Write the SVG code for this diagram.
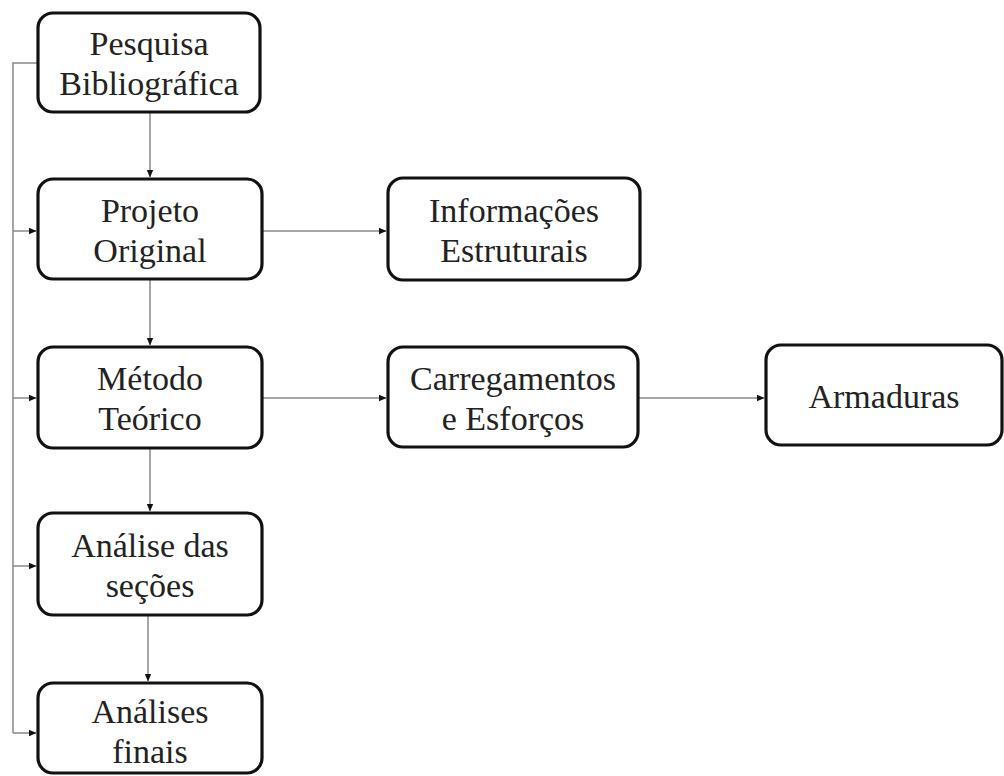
<svg xmlns="http://www.w3.org/2000/svg" width="1004" height="776" viewBox="0 0 1004 776">
<defs>
<marker id="arr" markerWidth="8" markerHeight="8" refX="7" refY="4" orient="auto" markerUnits="userSpaceOnUse">
<path d="M0,0.8 L7.5,4 L0,7.2 Z" fill="#111"/>
</marker>
</defs>
<rect width="1004" height="776" fill="#fff"/>
<g id="connectors" fill="none" stroke="#888" stroke-width="1.5">
<path d="M38,63 H13 V733"/>
<path d="M13,231 H36" marker-end="url(#arr)"/>
<path d="M13,398 H36" marker-end="url(#arr)"/>
<path d="M13,566 H36" marker-end="url(#arr)"/>
<path d="M13,733 H36" marker-end="url(#arr)"/>
<path d="M150,112 V177" marker-end="url(#arr)"/>
<path d="M150,280 V345" marker-end="url(#arr)"/>
<path d="M150,448 V511" marker-end="url(#arr)"/>
<path d="M148,616 V681" marker-end="url(#arr)"/>
<path d="M262,231 H386" marker-end="url(#arr)"/>
<path d="M262,398 H386" marker-end="url(#arr)"/>
<path d="M638,398 H764" marker-end="url(#arr)"/>
</g>
<g id="n1"><rect x="38" y="13" width="222" height="99" rx="15" fill="#fff" stroke="#111" stroke-width="3.2"/>
<text x="149" y="55" font-size="34" font-family="'Liberation Serif'" text-anchor="middle" fill="#222">Pesquisa</text>
<text x="149" y="95" font-size="34" font-family="'Liberation Serif'" text-anchor="middle" fill="#222">Bibliográfica</text></g>
<g id="n2"><rect x="38" y="179" width="224" height="100" rx="15" fill="#fff" stroke="#111" stroke-width="3.2"/>
<text x="150" y="222" font-size="34" font-family="'Liberation Serif'" text-anchor="middle" fill="#222">Projeto</text>
<text x="150" y="262" font-size="34" font-family="'Liberation Serif'" text-anchor="middle" fill="#222">Original</text></g>
<g id="n3"><rect x="38" y="347" width="224" height="101" rx="15" fill="#fff" stroke="#111" stroke-width="3.2"/>
<text x="150" y="390" font-size="34" font-family="'Liberation Serif'" text-anchor="middle" fill="#222">Método</text>
<text x="150" y="430" font-size="34" font-family="'Liberation Serif'" text-anchor="middle" fill="#222">Teórico</text></g>
<g id="n4"><rect x="38" y="513" width="224" height="102" rx="15" fill="#fff" stroke="#111" stroke-width="3.2"/>
<text x="150" y="557" font-size="34" font-family="'Liberation Serif'" text-anchor="middle" fill="#222">Análise das</text>
<text x="150" y="597" font-size="34" font-family="'Liberation Serif'" text-anchor="middle" fill="#222">seções</text></g>
<g id="n5"><rect x="38" y="683" width="224" height="90" rx="15" fill="#fff" stroke="#111" stroke-width="3.2"/>
<text x="150" y="723" font-size="34" font-family="'Liberation Serif'" text-anchor="middle" fill="#222">Análises</text>
<text x="150" y="763" font-size="34" font-family="'Liberation Serif'" text-anchor="middle" fill="#222">finais</text></g>
<g id="n6"><rect x="388" y="178" width="252" height="102" rx="15" fill="#fff" stroke="#111" stroke-width="3.2"/>
<text x="514" y="222" font-size="34" font-family="'Liberation Serif'" text-anchor="middle" fill="#222">Informações</text>
<text x="514" y="262" font-size="34" font-family="'Liberation Serif'" text-anchor="middle" fill="#222">Estruturais</text></g>
<g id="n7"><rect x="388" y="347" width="250" height="100" rx="15" fill="#fff" stroke="#111" stroke-width="3.2"/>
<text x="513" y="390" font-size="34" font-family="'Liberation Serif'" text-anchor="middle" fill="#222">Carregamentos</text>
<text x="513" y="430" font-size="34" font-family="'Liberation Serif'" text-anchor="middle" fill="#222">e Esforços</text></g>
<g id="n8"><rect x="766" y="345" width="236" height="100" rx="15" fill="#fff" stroke="#111" stroke-width="3.2"/>
<text x="884" y="408" font-size="34" font-family="'Liberation Serif'" text-anchor="middle" fill="#222">Armaduras</text></g>
</svg>
